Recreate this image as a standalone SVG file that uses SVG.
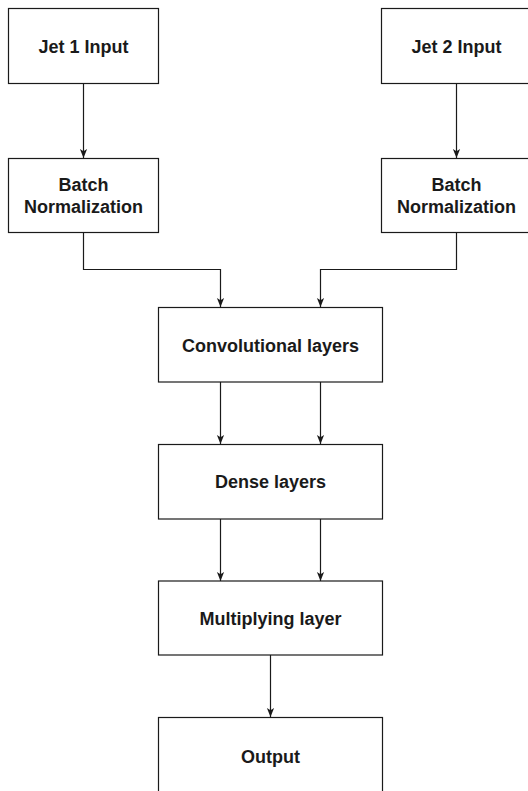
<svg xmlns="http://www.w3.org/2000/svg" width="528" height="791" viewBox="0 0 528 791">
<style>
.box{fill:#ffffff;stroke:#1a1a1a;stroke-width:1.2}
.lbl{font-family:"Liberation Sans",Arial,sans-serif;font-weight:bold;font-size:18px;fill:#1a1a1a;text-anchor:middle}
.edge{fill:none;stroke:#1a1a1a;stroke-width:1.2;marker-end:url(#arr)}
</style>
<defs>
<marker id="arr" viewBox="0 0 10 10" refX="10" refY="5" markerWidth="9" markerHeight="9" markerUnits="userSpaceOnUse" orient="auto">
<path d="M0,1 L10,5 L0,9 L2.5,5 z" fill="#1a1a1a"/>
</marker>
</defs>
<rect width="528" height="791" fill="#ffffff"/>
<g id="connectors">
<path class="edge" d="M83.5 83 V158"/>
<path class="edge" d="M456.5 83 V158"/>
<path class="edge" d="M83.5 232 V269.5 H220.5 V307"/>
<path class="edge" d="M456.5 232 V269.5 H320.5 V307"/>
<path class="edge" d="M220.5 382 V444"/>
<path class="edge" d="M320.5 382 V444"/>
<path class="edge" d="M220.5 519 V581"/>
<path class="edge" d="M320.5 519 V581"/>
<path class="edge" d="M270.5 655 V717"/>
</g>
<g id="jet1">
<rect class="box" x="8.5" y="8.5" width="150" height="75"/>
<text class="lbl" x="83.5" y="53">Jet 1 Input</text>
</g>
<g id="bn1">
<rect class="box" x="8.5" y="158.5" width="150" height="74"/>
<text class="lbl" x="83.5" y="190.5">Batch</text>
<text class="lbl" x="83.5" y="213">Normalization</text>
</g>
<g id="jet2">
<rect class="box" x="381.5" y="8.5" width="150" height="75"/>
<text class="lbl" x="456.5" y="53">Jet 2 Input</text>
</g>
<g id="bn2">
<rect class="box" x="381.5" y="158.5" width="150" height="74"/>
<text class="lbl" x="456.5" y="190.5">Batch</text>
<text class="lbl" x="456.5" y="213">Normalization</text>
</g>
<g id="conv">
<rect class="box" x="158.5" y="307.5" width="224" height="74.5"/>
<text class="lbl" x="270.5" y="351.5">Convolutional layers</text>
</g>
<g id="dense">
<rect class="box" x="158.5" y="444.5" width="224" height="74.5"/>
<text class="lbl" x="270.5" y="488">Dense layers</text>
</g>
<g id="mult">
<rect class="box" x="158.5" y="581" width="224" height="74"/>
<text class="lbl" x="270.5" y="625">Multiplying layer</text>
</g>
<g id="output">
<rect class="box" x="158.5" y="717.5" width="224" height="75"/>
<text class="lbl" x="270.5" y="762.5">Output</text>
</g>
</svg>
